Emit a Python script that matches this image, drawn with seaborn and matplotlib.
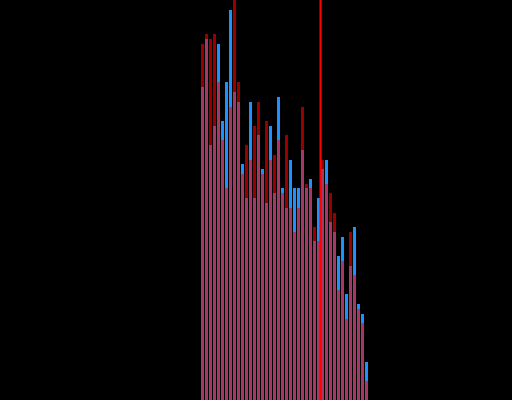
import numpy as np
import pandas as pd
import matplotlib
matplotlib.use("Agg")
import matplotlib.pyplot as plt
import seaborn as sns

# bar heights (pixel-read, scaled to 0-100)
blue_vals = [313, 361, 255, 274, 356, 279, 318, 390, 308, 298,
             236, 202, 298, 202, 265, 231, 197, 274, 207, 303,
             212, 192, 240, 212, 212, 250, 212, 221, 159, 202,
             231, 240, 178, 168, 144, 163, 106, 134, 173, 96,
             86, 38]
red_vals = [356, 366, 361, 366, 318, 260, 212, 293, 400, 318,
            226, 255, 240, 274, 298, 226, 279, 240, 245, 260,
            207, 265, 192, 168, 192, 293, 216, 212, 173, 159,
            240, 216, 207, 187, 110, 139, 81, 168, 125, 91,
            77, 19]
blue_vals = [v / 4 for v in blue_vals]
red_vals = [v / 4 for v in red_vals]
categories = list(range(len(blue_vals)))
marker_pos = 29.5

df = pd.DataFrame({"cat": categories, "blue": blue_vals, "red": red_vals})

fig = plt.figure(figsize=(5.12, 4.0), dpi=100, facecolor="black")
ax = fig.add_axes([0, 0, 1, 1])
ax.set_facecolor("black")

sns.barplot(data=df, x="cat", y="blue", color="#1E90FF", saturation=1,
            width=0.75, ax=ax, linewidth=0)
sns.barplot(data=df, x="cat", y="red", color="#FF0000", saturation=1,
            width=0.75, alpha=0.6, ax=ax, linewidth=0)
ax.axvline(marker_pos, color="#FF0000", lw=1.5, zorder=10, snap=False)

ax.set_xlim(-50.625, 77.375)
ax.set_ylim(0, 100)
ax.set_axis_off()

fig.savefig("out.png", dpi=100, facecolor="black")
